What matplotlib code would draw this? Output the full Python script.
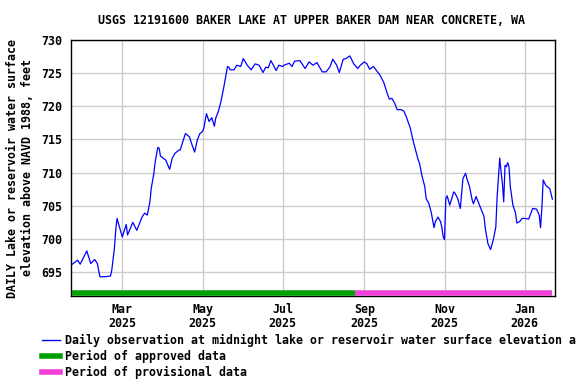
import matplotlib
matplotlib.use("Agg")
import matplotlib.pyplot as plt
import pandas as pd
from matplotlib.lines import Line2D

dates = [
    "2025-01-22", "2025-01-26", "2025-01-28", "2025-02-02", "2025-02-05", "2025-02-08",
    "2025-02-10", "2025-02-12", "2025-02-15", "2025-02-20", "2025-02-21", "2025-02-23",
    "2025-02-24", "2025-02-25", "2025-03-01", "2025-03-04", "2025-03-05", "2025-03-09",
    "2025-03-12", "2025-03-16", "2025-03-18", "2025-03-20", "2025-03-22", "2025-03-23",
    "2025-03-25", "2025-03-26", "2025-03-28", "2025-03-29", "2025-03-30", "2025-04-03",
    "2025-04-06", "2025-04-08", "2025-04-10", "2025-04-13", "2025-04-14", "2025-04-18",
    "2025-04-21", "2025-04-23", "2025-04-25", "2025-04-27", "2025-04-29", "2025-05-01",
    "2025-05-02", "2025-05-04", "2025-05-06", "2025-05-08", "2025-05-10", "2025-05-11",
    "2025-05-13", "2025-05-15", "2025-05-17", "2025-05-20", "2025-05-21", "2025-05-22",
    "2025-05-25", "2025-05-27", "2025-05-30", "2025-06-01", "2025-06-04", "2025-06-07",
    "2025-06-10", "2025-06-13", "2025-06-16", "2025-06-18", "2025-06-20", "2025-06-22",
    "2025-06-26", "2025-06-28", "2025-07-01", "2025-07-02", "2025-07-06", "2025-07-08",
    "2025-07-10", "2025-07-14", "2025-07-18", "2025-07-21", "2025-07-24", "2025-07-27",
    "2025-07-31", "2025-08-03", "2025-08-06", "2025-08-08", "2025-08-11", "2025-08-13",
    "2025-08-16", "2025-08-18", "2025-08-21", "2025-08-24", "2025-08-27", "2025-08-29",
    "2025-09-01", "2025-09-03", "2025-09-05", "2025-09-08", "2025-09-11", "2025-09-13",
    "2025-09-16", "2025-09-18", "2025-09-20", "2025-09-22", "2025-09-24", "2025-09-26",
    "2025-09-29", "2025-10-01", "2025-10-03", "2025-10-06", "2025-10-08", "2025-10-10",
    "2025-10-12", "2025-10-13", "2025-10-15", "2025-10-17", "2025-10-18", "2025-10-20",
    "2025-10-22", "2025-10-24", "2025-10-25", "2025-10-27", "2025-10-29", "2025-10-30",
    "2025-10-31", "2025-11-01", "2025-11-02", "2025-11-03", "2025-11-05", "2025-11-08",
    "2025-11-09", "2025-11-11", "2025-11-13", "2025-11-15", "2025-11-17", "2025-11-18",
    "2025-11-20", "2025-11-22", "2025-11-23", "2025-11-25", "2025-11-27", "2025-11-29",
    "2025-12-01", "2025-12-02", "2025-12-04", "2025-12-06", "2025-12-08", "2025-12-10",
    "2025-12-11", "2025-12-13", "2025-12-14", "2025-12-15", "2025-12-16", "2025-12-17",
    "2025-12-18", "2025-12-19", "2025-12-20", "2025-12-21", "2025-12-23", "2025-12-25",
    "2025-12-26", "2025-12-28", "2025-12-30", "2026-01-01", "2026-01-04", "2026-01-07",
    "2026-01-10", "2026-01-12", "2026-01-13", "2026-01-14", "2026-01-15", "2026-01-17",
    "2026-01-18", "2026-01-20", "2026-01-22",
]
elevation = [
    696.2, 696.8, 696.2, 698.2, 696.3, 696.9,
    696.3, 694.3, 694.3, 694.4, 695.3, 698.6,
    701.3, 703.1, 700.3, 702.2, 700.6, 702.5,
    701.3, 703.3, 703.9, 703.6, 705.6, 707.6,
    709.9, 711.6, 713.8, 713.7, 712.5, 711.9,
    710.5, 712.2, 712.9, 713.4, 713.4, 715.9,
    715.4, 714.2, 713.1, 714.9, 715.9, 716.2,
    716.7, 718.9, 717.7, 718.3, 717.0, 718.2,
    719.2, 720.7, 722.7, 726.0, 725.9, 725.5,
    725.5, 726.2, 726.0, 727.2, 726.2, 725.5,
    726.4, 726.2, 725.1, 725.9, 725.8, 726.9,
    725.4, 726.2, 726.0, 726.2, 726.5, 726.0,
    726.8, 726.9, 725.7, 726.7, 726.2, 726.6,
    725.2, 725.2, 726.0, 727.1, 726.2, 725.1,
    727.1, 727.2, 727.6, 726.4, 725.7, 726.2,
    726.7, 726.4, 725.6, 726.0, 725.2, 724.7,
    723.5, 722.2, 721.1, 721.2, 720.5, 719.5,
    719.5, 719.3, 718.4, 716.7, 714.9, 713.4,
    711.9, 711.4, 709.4, 707.9, 706.1, 705.4,
    703.9, 701.7, 702.6, 703.3, 702.6, 701.7,
    700.3, 699.9, 706.1, 706.5, 705.1, 707.1,
    706.9, 706.1, 704.6, 709.1, 709.9, 709.1,
    707.9, 705.9, 705.3, 706.4, 705.4, 704.4,
    703.4, 701.6, 699.3, 698.4, 699.8, 701.8,
    706.4, 712.2, 710.1, 708.4, 705.6, 711.1,
    710.9, 711.5, 710.9, 707.9, 705.1, 703.9,
    702.4, 702.6, 703.1, 703.1, 703.0, 704.6,
    704.5, 703.6, 701.7, 704.6, 708.9, 708.1,
    707.9, 707.6, 706.0,
]

approved_period = ["2025-01-22", "2025-08-25"]
provisional_period = ["2025-08-25", "2026-01-22"]
period_level = 691.85

tick_dates = ["2025-03-01", "2025-05-01", "2025-07-01", "2025-09-01", "2025-11-01", "2026-01-01"]
tick_labels = ["Mar\n2025", "May\n2025", "Jul\n2025", "Sep\n2025", "Nov\n2025", "Jan\n2026"]
y_ticks = [695, 700, 705, 710, 715, 720, 725, 730]

title = "USGS 12191600 BAKER LAKE AT UPPER BAKER DAM NEAR CONCRETE, WA"
ylabel = "DAILY Lake or reservoir water surface\nelevation above NAVD 1988, feet"
legend_labels = [
    "Daily observation at midnight lake or reservoir water surface elevation above NAVD 1988, feet",
    "Period of approved data",
    "Period of provisional data",
]

plt.rcParams["font.family"] = ["DejaVu Sans Mono"]
plt.rcParams["font.weight"] = "bold"
fs = 8.4

fig = plt.figure(figsize=(5.76, 3.84), dpi=100)
ax = fig.add_axes([71/576, 1-296/384, (555-71)/576, (296-40)/384])

x = pd.to_datetime(dates)
ax.plot(x, elevation, color="#0000ff", lw=0.9, zorder=3)
ax.plot(pd.to_datetime(approved_period), [period_level]*2, color="#00a000", lw=4, solid_capstyle="butt", zorder=4)
ax.plot(pd.to_datetime(provisional_period), [period_level]*2, color="#f040d8", lw=4, solid_capstyle="butt", zorder=4)

ax.set_xlim(pd.Timestamp("2025-01-21"), pd.Timestamp("2026-01-24"))
ax.set_ylim(691.4, 730)
ax.set_yticks(y_ticks)
ax.set_yticklabels([str(v) for v in y_ticks], fontsize=fs, fontweight="bold")
ax.set_xticks(pd.to_datetime(tick_dates))
ax.set_xticklabels(tick_labels, fontsize=fs, fontweight="bold", linespacing=1.15)
ax.tick_params(axis="both", length=0)
ax.tick_params(axis="y", pad=6)
ax.tick_params(axis="x", pad=5)
ax.grid(True, color="#cccccc", lw=1)
ax.set_axisbelow(True)
for s in ax.spines.values():
    s.set_color("black")
    s.set_linewidth(1)

fig.text(312/576, 1-20/384, title, ha="center", va="center", fontsize=fs, fontweight="bold")
fig.text(20/576, 1-168/384, ylabel, ha="center", va="center", rotation=90, fontsize=fs,
         fontweight="bold", linespacing=1.15)

handles = [
    Line2D([], [], color="#0000ff", lw=1),
    Line2D([], [], color="#00a000", lw=4),
    Line2D([], [], color="#f040d8", lw=4),
]
fig.legend(handles, legend_labels, loc="upper left", bbox_to_anchor=(42/576, 1-334/384),
           frameon=False, handlelength=1.55, handletextpad=0.45,
           labelspacing=0.26, borderpad=0, borderaxespad=0, prop={"weight": "bold", "size": fs})

fig.savefig("out.png", dpi=100)
